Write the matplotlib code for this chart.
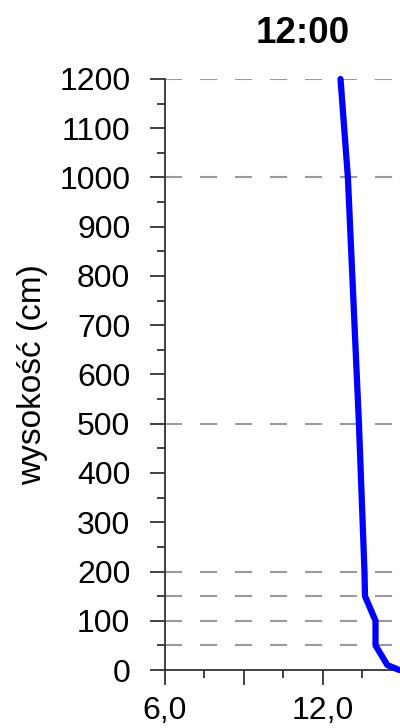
import matplotlib
matplotlib.use("Agg")
import matplotlib.pyplot as plt
from matplotlib.ticker import MultipleLocator, FixedLocator, FuncFormatter

# temperature profile at 12:00
heights = [0, 10, 50, 100, 150, 200, 500, 1000, 1200]
temps = [14.9, 14.45, 14.0, 14.0, 13.6, 13.58, 13.37, 12.95, 12.67]
grid_levels = [50, 100, 150, 200, 500, 1000, 1200]
x_labels = {6.0: "6,0", 12.0: "12,0"}

plt.rcParams["font.family"] = ["Liberation Sans", "DejaVu Sans"]

W, H = 400, 728
fig = plt.figure(figsize=(W / 100, H / 100), dpi=100)
ax = fig.add_axes([165 / W, 1 - 670 / H, 235 / W, (670 - 79) / H])

for lvl in grid_levels:
    ax.axhline(lvl, color="#9a9a9a", lw=1.5, dashes=(8.2, 8.6), zorder=1)

ax.plot(temps, heights, color="#0000ff", lw=4.5, solid_capstyle="round",
        solid_joinstyle="round", zorder=3, clip_on=False)

ax.set_xlim(6.0, 14.93)
ax.set_ylim(0, 1200)

ax.xaxis.set_major_locator(FixedLocator([6, 9, 12]))
ax.xaxis.set_minor_locator(FixedLocator([7.5, 10.5, 13.5]))
ax.xaxis.set_major_formatter(FuncFormatter(lambda v, p: x_labels.get(round(v, 1), "")))
ax.yaxis.set_major_locator(MultipleLocator(100))
ax.yaxis.set_minor_locator(MultipleLocator(50))

for s in ["top", "right"]:
    ax.spines[s].set_visible(False)
for s in ["left", "bottom"]:
    ax.spines[s].set_linewidth(1.3)
    ax.spines[s].set_color("#333333")

ax.tick_params(axis="both", which="major", length=11, width=1.3, color="#333333",
               labelsize=23)
ax.tick_params(axis="both", which="minor", length=6, width=1.3, color="#333333")
ax.tick_params(axis="y", which="major", pad=14)
ax.tick_params(axis="x", which="major", pad=8)

ax.set_ylabel("wysokość (cm)", fontsize=24, labelpad=8)
fig.text(303 / W, 1 - 43 / H, "12:00", fontsize=26.5, fontweight="bold",
         ha="center", va="baseline")

fig.savefig("out.png", dpi=100)
